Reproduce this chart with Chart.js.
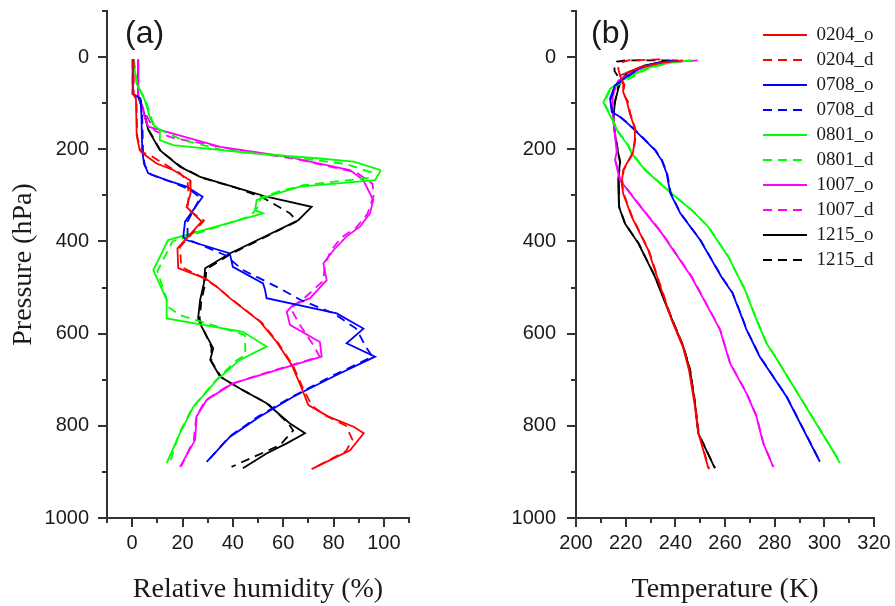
<!DOCTYPE html>
<html><head><meta charset="utf-8">
<script src="https://cdn.jsdelivr.net/npm/chart.js@4.4.1/dist/chart.umd.min.js"></script>
<style>
html,body{margin:0;padding:0;background:#fff;}
#wrap{position:relative;width:895px;height:606px;overflow:hidden;background:#fff;}
canvas{position:absolute;top:0;}
#ca{left:0;width:450px;height:606px;}
#cb{left:450px;width:445px;height:606px;}
.plab{position:absolute;font-family:'Liberation Sans',Arial,sans-serif;font-size:32px;line-height:32px;color:#1a1a1a;white-space:nowrap;}
</style></head><body>
<div id="wrap">
<canvas id="ca" width="450" height="606"></canvas>
<canvas id="cb" width="445" height="606"></canvas>
<div class="plab" style="left:125px;top:16px">(a)</div>
<div class="plab" style="left:591px;top:16px">(b)</div>
</div>
<script>
// ---------- series names, colours ----------
const seriesNames = ['0204_o','0204_d','0708_o','0708_d','0801_o','0801_d','1007_o','1007_d','1215_o','1215_d'];
const seriesColors = ['#ff0000','#ff0000','#0000ff','#0000ff','#00ff00','#00ff00','#ff00ff','#ff00ff','#000000','#000000'];

// ---------- tick labels ----------
const pressureTicks = [0, 200, 400, 600, 800, 1000];
const rhTicks = [0, 20, 40, 60, 80, 100];
const tempTicks = [200, 220, 240, 260, 280, 300, 320];

// ---------- (a) relative humidity (%) vs pressure (hPa) ----------
const rhP_0204o = [5, 80, 90, 170, 202, 212, 231, 245, 267, 296, 325, 357, 415, 458, 480, 498, 523, 574, 618, 668, 719, 755, 780, 802, 816, 853, 894];
const rh_0204o  = [0.4, 0.4, 1.5, 1.8, 3, 5, 9.7, 16.3, 23, 23.2, 21.6, 27.6, 18, 18.3, 29, 33.6, 38.8, 50.8, 57.4, 63.4, 67.4, 70, 78, 88, 92, 86.6, 71.3];
const rhP_0204d = [5, 80, 92, 172, 205, 216, 236, 252, 270, 300, 330, 355, 412, 455, 478, 500, 525, 576, 620, 670, 720, 757, 778, 800, 830, 855, 892];
const rh_0204d  = [0.6, 0.6, 1.7, 2, 3.5, 8, 14, 19, 22, 22.5, 22, 28.5, 19, 19.5, 28, 34, 39.5, 51.5, 58, 64, 68, 71.5, 77, 85, 87.5, 85, 72];

const rhP_0708o = [4, 80, 90, 130, 202, 231, 252, 267, 281, 303, 357, 390, 397, 426, 455, 491, 505, 523, 556, 589, 621, 650, 693, 737, 780, 824, 878];
const rh_0708o  = [0.2, 0.2, 3.3, 3.7, 4, 4.7, 6.4, 13.7, 21.6, 28, 21, 20.3, 21.6, 38.8, 40, 52, 52.8, 53.4, 81.3, 91.9, 85.2, 96.5, 80, 64, 50.8, 38.8, 29.6];
const rhP_0708d = [4, 80, 92, 130, 205, 235, 255, 272, 288, 305, 357, 395, 430, 462, 500, 527, 556, 589, 630, 650, 693, 737, 780, 824, 878];
const rh_0708d  = [0.4, 0.4, 3.5, 4, 4.3, 5, 7.5, 16, 23, 27, 22, 22, 37, 44, 58, 67, 80, 89, 93, 95.5, 79, 63.5, 50, 38.5, 29.8];

const rhP_0801o = [5, 57, 93, 130, 147, 158, 180, 191, 209, 220, 227, 245, 249, 267, 281, 296, 310, 332, 339, 397, 462, 527, 567, 596, 628, 657, 701, 759, 816, 881];
const rh_0801o  = [0.5, 1.7, 5, 7, 8.4, 11, 11, 16.3, 48, 74.6, 88, 98.5, 98.5, 96.5, 66.7, 57.4, 49.5, 48.8, 52, 14.3, 8.4, 13.7, 13.7, 44, 53.4, 42.8, 33.6, 24.3, 19, 13.7];
const rhP_0801d = [5, 60, 95, 132, 150, 160, 180, 200, 215, 232, 250, 262, 278, 292, 305, 325, 345, 400, 465, 530, 542, 560, 603, 646, 660, 703, 760, 818, 880];
const rh_0801d  = [0.7, 2, 5.5, 7.5, 9, 12, 20, 35, 60, 85, 95, 94, 68, 58, 51, 50, 47, 16, 10, 14, 14.3, 19, 44.8, 45, 41, 33, 24, 18.5, 15];

const rhP_1007o = [5, 80, 100, 130, 151, 195, 216, 245, 267, 310, 339, 368, 390, 419, 448, 484, 523, 538, 552, 581, 618, 650, 679, 708, 744, 780, 831, 889];
const rh_1007o  = [2.4, 2.4, 3.5, 5, 6.4, 35, 61.4, 86.6, 91.8, 95.8, 94.5, 90.5, 85, 80, 76, 77.3, 70.7, 64, 61.4, 62.7, 74.6, 75.3, 57.4, 40, 29.6, 25.6, 25, 19];
const rhP_1007d = [5, 80, 100, 130, 160, 175, 200, 222, 250, 275, 300, 340, 370, 392, 420, 450, 485, 520, 545, 580, 625, 650, 680, 710, 745, 780, 830, 888];
const rh_1007d  = [0.3, 0.3, 3.5, 6, 9, 16, 40, 66, 89, 95.5, 96, 93.5, 89, 83, 79, 76.5, 76, 69, 63, 66.5, 72, 74.5, 56, 39, 29, 25.5, 24.5, 19.5];

const rhP_1215o = [5, 87, 115, 158, 202, 238, 260, 281, 303, 325, 354, 426, 458, 491, 527, 567, 585, 632, 657, 693, 719, 751, 795, 816, 838, 860, 892];
const rh_1215o  = [2.4, 2.4, 4.4, 6.4, 11, 19, 27, 40, 53.4, 71.3, 66, 38.8, 29, 28.5, 27, 26.2, 27.6, 32.2, 31, 34.9, 42.8, 53.4, 62.7, 68.7, 61.4, 53.4, 44];
const rhP_1215d = [5, 80, 90, 118, 160, 205, 240, 262, 283, 305, 339, 356, 428, 460, 493, 528, 568, 587, 630, 660, 695, 720, 752, 795, 810, 842, 889];
const rh_1215d  = [0.2, 0.2, 2.6, 4.6, 6.8, 11.5, 20, 28, 41, 52, 62.7, 65.5, 39, 29.5, 29, 27.5, 26.8, 28, 31.5, 31.5, 35.5, 43, 54, 62, 64, 58.7, 39.5];

// ---------- (b) temperature (K) vs pressure (hPa) ----------
const tP_0204o = [7, 12, 22, 40, 58, 76, 94, 123, 155, 177, 206, 245, 274, 296, 346, 419, 484, 570, 628, 679, 751, 816, 852, 892];
const t_0204o  = [243, 235, 226, 217.7, 219, 219, 220.4, 221.7, 223.7, 223.7, 223, 219, 218.4, 219, 222.4, 229.1, 233.1, 238.5, 243, 245.5, 247.7, 249.3, 251.2, 253.3];
const tP_0204d = [5, 7, 12, 25, 45, 60, 80, 95, 123, 155, 177, 206, 245, 274, 296, 346, 419, 484, 570, 628, 679, 751, 816, 852, 894];
const t_0204d  = [234, 221, 218, 217, 218, 219.5, 219, 220.8, 221.9, 223.9, 223.9, 223.2, 219.2, 218.6, 219.2, 222.6, 229.3, 233.3, 238.7, 243.2, 245.7, 247.9, 249.5, 251.4, 253.6];

const tP_0708o = [7, 12, 22, 40, 61, 90, 119, 127, 145, 166, 202, 224, 252, 296, 339, 397, 477, 512, 563, 592, 650, 672, 737, 878];
const t_0708o  = [240, 233, 226, 221, 215.7, 213.7, 214.4, 217, 221, 225.1, 231.8, 234.5, 236.5, 238, 242, 250, 258.6, 263, 266.7, 268.7, 274, 276.7, 284.8, 298.2];
const tP_0708d = [7, 12, 22, 40, 61, 90, 119, 127, 145, 166, 202, 224, 252, 296, 339, 397, 477, 512, 563, 592, 650, 672, 737, 878];
const t_0708d  = [241, 233.5, 226.5, 221.3, 216, 214, 214.6, 217.3, 221.2, 225.3, 232, 234.7, 236.7, 238.2, 242.1, 250.1, 258.7, 263.1, 266.8, 268.8, 274.1, 276.8, 284.9, 298.3];

const tP_0801o = [7, 12, 25, 51, 69, 98, 134, 163, 192, 209, 245, 296, 332, 368, 433, 505, 570, 621, 643, 737, 867, 881];
const t_0801o  = [246, 237, 228, 218.4, 213.7, 211, 214.4, 217, 221, 222.4, 227.8, 238.5, 246.6, 253.2, 261.3, 268, 272.7, 276.7, 279.4, 290.1, 304.9, 306.2];
const tP_0801d = [7, 12, 25, 48, 69, 98, 134, 163, 192, 209, 245, 296, 332, 368, 433, 505, 570, 621, 643, 737, 867, 881];
const t_0801d  = [247, 238, 229, 221, 214, 211.3, 214.6, 217.2, 221.2, 222.6, 228, 238.6, 246.7, 253.3, 261.4, 268.1, 272.8, 276.8, 279.5, 290.2, 305, 306.3];

const tP_1007o = [7, 12, 25, 51, 75, 110, 170, 206, 223, 267, 318, 382, 477, 570, 592, 664, 730, 780, 809, 838, 889];
const t_1007o  = [241, 234, 226, 217, 215, 214.5, 215.7, 216.4, 215.7, 217.7, 225, 234.5, 246.5, 255.9, 258, 262, 268.7, 272.7, 274, 275.4, 279.4];
const tP_1007d = [7, 12, 22, 36, 51, 75, 110, 170, 206, 223, 267, 318, 382, 477, 570, 592, 664, 730, 780, 809, 838, 889];
const t_1007d  = [249, 238, 228, 221, 217.5, 215.2, 214.7, 215.9, 216.6, 215.9, 217.9, 225.2, 234.7, 246.7, 256, 258.1, 262.1, 268.8, 272.8, 274.1, 275.5, 279.5];

const tP_1215o = [7, 11, 18, 33, 47, 69, 98, 134, 170, 228, 267, 325, 361, 404, 477, 549, 628, 679, 751, 816, 892];
const t_1215o  = [239.2, 234.5, 227.8, 221, 218.4, 217, 215.7, 215, 215.7, 217.7, 217, 217.3, 219.7, 225.1, 231.8, 237.1, 243.2, 245.9, 247.9, 249.2, 255.9];
const tP_1215d = [7, 7, 10, 20, 30, 47, 69, 98, 134, 170, 228, 267, 325, 361, 404, 477, 549, 628, 679, 751, 816, 892];
const t_1215d  = [238, 220.4, 216.5, 215.5, 215.5, 217.5, 216.8, 215.6, 215.1, 215.8, 217.8, 217.1, 217.4, 219.8, 225.2, 231.9, 237.2, 243.3, 246, 248, 249.3, 256];

// ---------- styling ----------
const SANS = "'Liberation Sans', Arial, sans-serif";
const SERIF = "'Liberation Serif', 'Times New Roman', serif";
const TEXT = '#1a1a1a';
const AXIS = '#333333';
const DASH = [9, 6];
const LINE_W = 1.8;

const rhSeries = [
  [rhP_0204o, rh_0204o], [rhP_0204d, rh_0204d],
  [rhP_0708o, rh_0708o], [rhP_0708d, rh_0708d],
  [rhP_0801o, rh_0801o], [rhP_0801d, rh_0801d],
  [rhP_1007o, rh_1007o], [rhP_1007d, rh_1007d],
  [rhP_1215o, rh_1215o], [rhP_1215d, rh_1215d]
];
const tSeries = [
  [tP_0204o, t_0204o], [tP_0204d, t_0204d],
  [tP_0708o, t_0708o], [tP_0708d, t_0708d],
  [tP_0801o, t_0801o], [tP_0801d, t_0801d],
  [tP_1007o, t_1007o], [tP_1007d, t_1007d],
  [tP_1215o, t_1215o], [tP_1215d, t_1215d]
];

function makeDatasets(series) {
  return series.map(([P, V], i) => ({
    label: seriesNames[i],
    data: P.map((p, k) => ({ x: V[k], y: p })),
    showLine: true,
    borderColor: seriesColors[i],
    backgroundColor: seriesColors[i],
    borderWidth: LINE_W,
    borderDash: seriesNames[i].endsWith('_d') ? DASH : [],
    pointRadius: 0,
    pointHoverRadius: 0,
    tension: 0,
    fill: false
  }));
}

// tick marks (major long, minor short) drawn at the scale's own tick positions
const tickMarks = {
  id: 'tickMarks',
  afterDraw(chart) {
    const ctx = chart.ctx;
    ctx.save();
    ctx.strokeStyle = AXIS;
    ctx.lineWidth = 2;
    Object.values(chart.scales).forEach(s => {
      s.ticks.forEach(t => {
        const major = t.label !== '' && t.label !== undefined;
        const len = major ? 9 : 5;
        const p = Math.round(s.getPixelForValue(t.value));
        ctx.beginPath();
        if (s.isHorizontal()) { ctx.moveTo(p, s.top); ctx.lineTo(p, s.top + len); }
        else { ctx.moveTo(s.right - len, p); ctx.lineTo(s.right, p); }
        ctx.stroke();
      });
    });
    ctx.restore();
  }
};

const legendPlace = {
  id: 'legendPlace',
  afterLayout(chart) {
    const lg = chart.legend;
    if (!lg || !lg.options.display) return;
    const w = lg.width, h = lg.height;
    lg.left = 307; lg.top = 19.5; lg.right = lg.left + w; lg.bottom = lg.top + h;
  }
};

function yScale(withTitle, width, pad) {
  return {
    type: 'linear', reverse: true, min: -100, max: 1000,
    ticks: {
      stepSize: 100, autoSkip: false, padding: pad, color: TEXT,
      font: { family: SANS, size: 20 },
      callback: v => pressureTicks.includes(v) ? String(v) : ''
    },
    grid: { display: false, drawTicks: false },
    border: { display: true, color: AXIS, width: 2 },
    title: {
      display: withTitle, text: 'Pressure (hPa)', color: TEXT,
      font: { family: SERIF, size: 28 }, padding: { top: 7, bottom: 0 }
    },
    afterFit: s => { s.width = width; s.paddingTop = 0; s.paddingBottom = 0; }
  };
}
function xScale(min, max, labels, title) {
  return {
    type: 'linear', position: 'bottom', min: min, max: max,
    ticks: {
      stepSize: 10, autoSkip: false, maxRotation: 0, minRotation: 0, padding: 13, color: TEXT,
      font: { family: SANS, size: 20 },
      callback: v => labels.includes(v) ? String(v) : ''
    },
    grid: { display: false, drawTicks: false },
    border: { display: true, color: AXIS, width: 2 },
    title: {
      display: true, text: title, color: TEXT,
      font: { family: SERIF, size: 28 }, padding: { top: 0, bottom: 0 }
    },
    afterFit: s => { s.height = 88; s.paddingLeft = 0; s.paddingRight = 0; }
  };
}

function legendItems(chart) {
  const items = Chart.defaults.plugins.legend.labels.generateLabels(chart);
  items.forEach(it => {
    const ds = chart.data.datasets[it.datasetIndex];
    it.lineDash = ds.borderDash;
    it.lineWidth = ds.borderWidth;
    it.strokeStyle = ds.borderColor;
    it.fillStyle = ds.borderColor;
    it.pointStyle = 'line';
  });
  return items;
}

new Chart(document.getElementById('ca'), {
  type: 'scatter',
  data: { datasets: makeDatasets(rhSeries) },
  options: {
    responsive: false, animation: false, devicePixelRatio: 1,
    layout: { padding: { left: 0, right: 41, top: 11, bottom: 0 } },
    plugins: { legend: { display: false }, tooltip: { enabled: false } },
    scales: {
      x: xScale(-10, 110, rhTicks, 'Relative humidity (%)'),
      y: yScale(true, 107, 18)
    }
  },
  plugins: [tickMarks]
});

new Chart(document.getElementById('cb'), {
  type: 'scatter',
  data: { datasets: makeDatasets(tSeries) },
  options: {
    responsive: false, animation: false, devicePixelRatio: 1,
    layout: { padding: { left: 0, right: 21, top: 11, bottom: 0 } },
    plugins: {
      tooltip: { enabled: false },
      legend: {
        display: true, position: 'chartArea', align: 'start',
        labels: {
          usePointStyle: true, pointStyle: 'line', pointStyleWidth: 44,
          generateLabels: legendItems,
          color: TEXT, padding: 6, font: { family: SERIF, size: 19 }
        }
      }
    },
    scales: {
      x: xScale(200, 320, tempTicks, 'Temperature (K)'),
      y: yScale(false, 126, 20)
    }
  },
  plugins: [tickMarks, legendPlace]
});
</script>
</body></html>
